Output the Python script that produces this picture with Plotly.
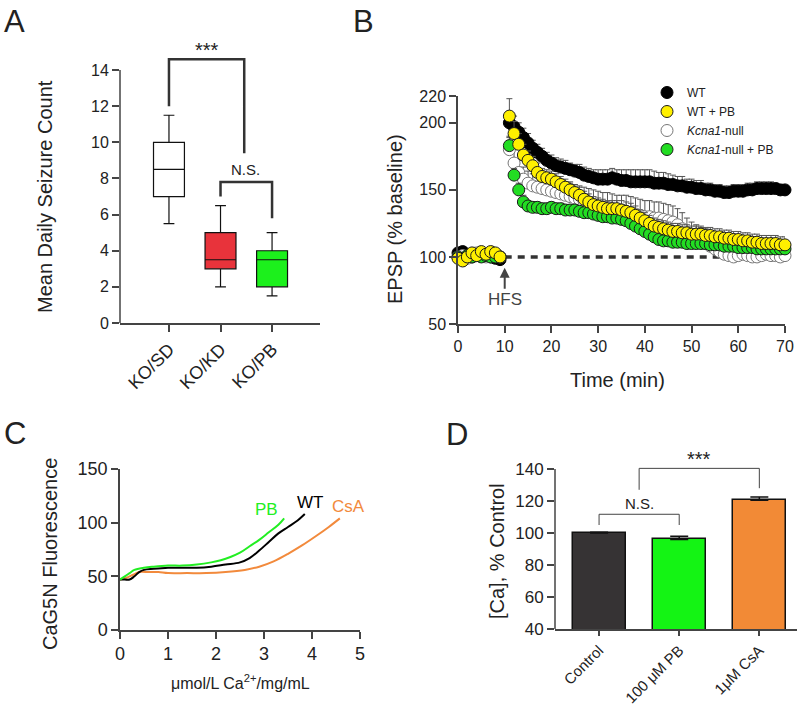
import plotly.graph_objects as go

FONT = "Liberation Sans, Arial, sans-serif"
INK = "#222222"
AX = "#444444"

# ---------------- Panel A data ----------------
A_CATS = ["KO/SD", "KO/KD", "KO/PB"]
A_POS = [0, 1, 2]
A_Q1 = [7.0, 3.0, 2.0]
A_MED = [8.5, 3.5, 3.5]
A_Q3 = [10.0, 5.0, 4.0]
A_LO = [5.5, 2.0, 1.5]
A_HI = [11.5, 6.5, 5.0]
A_COLORS = ["#ffffff", "#e8333b", "#1cf01c"]
A_YTICKS = [0, 2, 4, 6, 8, 10, 12, 14]

# ---------------- Panel B data ----------------
B_TIME = list(range(0, 10)) + list(range(11, 71))
B_WT = [103, 104, 101, 100, 101, 103, 101, 100, 99, 98,
        200, 197, 193, 189, 185, 181, 178, 175, 172, 170,
        168, 167, 166, 165, 164, 163, 161, 160, 159, 158,
        158, 158, 159, 158, 157, 157, 156, 156, 156, 156,
        156, 155, 155, 155, 154, 154, 153, 153, 152, 152,
        151, 151, 150, 150, 149, 149, 148, 148, 149, 149,
        149, 150, 150, 151, 151, 151, 151, 151, 150, 150]
B_WT_ERR = [2, 2, 2, 2, 2, 2, 2, 2, 2, 2,
            8, 8, 7, 7, 7, 6, 6, 6, 6, 6,
            6, 6, 6, 5, 5, 6, 6, 6, 6, 7,
            7, 7, 7, 7, 8, 8, 9, 9, 9, 9,
            9, 9, 8, 8, 8, 7, 7, 7, 6, 6,
            6, 6, 5, 5, 5, 5, 5, 5, 5, 5,
            5, 5, 5, 5, 5, 5, 5, 4, 4, 4]
B_WTPB = [99, 97, 100, 103, 101, 104, 102, 104, 103, 100,
          205, 192, 184, 176, 172, 168, 163, 160, 159, 158,
          156, 154, 152, 150, 148, 146, 143, 141, 139, 138,
          137, 136, 136, 136, 135, 134, 133, 131, 129, 127,
          125, 123, 122, 121, 120, 119, 119, 118, 118, 117,
          117, 117, 116, 116, 115, 115, 114, 114, 113, 113,
          112, 112, 111, 111, 110, 110, 110, 110, 109, 109]
B_WTPB_ERR = [2, 2, 2, 2, 2, 2, 2, 2, 2, 2,
              13, 9, 8, 8, 7, 7, 7, 6, 6, 6,
              6, 6, 6, 6, 6, 6, 6, 6, 6, 6,
              6, 6, 6, 6, 7, 7, 7, 7, 6, 6,
              6, 6, 6, 6, 6, 6, 6, 6, 6, 6,
              6, 6, 6, 6, 6, 6, 6, 6, 6, 6,
              6, 6, 6, 6, 6, 6, 6, 6, 6, 6]
B_KO = [100, 101, 99, 102, 103, 101, 100, 102, 101, 100,
        180, 170, 163, 158, 155, 153, 152, 151, 150, 149,
        148, 147, 146, 145, 144, 143, 141, 140, 139, 138,
        137, 137, 136, 135, 135, 134, 133, 132, 131, 130,
        130, 129, 129, 128, 127, 126, 124, 121, 118, 115,
        113, 111, 110, 108, 106, 104, 102, 101, 100, 101,
        102, 101, 100, 100, 101, 102, 101, 101, 100, 101]
B_KO_ERR = [2, 2, 2, 2, 2, 2, 2, 2, 2, 2,
            10, 10, 9, 9, 9, 9, 9, 9, 10, 10,
            10, 10, 10, 10, 10, 10, 11, 11, 11, 11,
            11, 11, 11, 11, 11, 12, 12, 12, 12, 12,
            12, 12, 12, 12, 12, 12, 12, 12, 11, 11,
            11, 11, 11, 10, 10, 10, 10, 10, 10, 10,
            10, 10, 10, 10, 10, 10, 10, 10, 10, 10]
B_KOPB = [100, 99, 101, 100, 102, 100, 101, 100, 100, 100,
          183, 161, 150, 141, 138, 137, 137, 136, 136, 137,
          136, 136, 135, 135, 135, 134, 133, 133, 132, 131,
          130, 130, 129, 129, 128, 127, 125, 123, 121, 119,
          117, 115, 113, 112, 112, 111, 111, 111, 110, 110,
          110, 110, 110, 109, 109, 109, 108, 108, 108, 107,
          107, 107, 107, 106, 106, 106, 106, 106, 106, 106]
B_KOPB_ERR = [2, 2, 2, 2, 2, 2, 2, 2, 2, 2,
              6, 5, 5, 5, 4, 4, 4, 4, 4, 4,
              4, 4, 4, 4, 4, 4, 4, 4, 4, 4,
              4, 4, 4, 4, 4, 4, 4, 4, 4, 4,
              4, 4, 4, 4, 4, 4, 4, 4, 4, 4,
              4, 4, 4, 4, 4, 4, 4, 4, 4, 4,
              4, 4, 4, 4, 4, 4, 4, 4, 4, 4]
B_XTICKS = [0, 10, 20, 30, 40, 50, 60, 70]
B_YTICKS = [50, 100, 150, 200, 220]

# ---------------- Panel C data ----------------
C_WT_X = [0, 0.1, 0.2, 0.3, 0.4, 0.5, 0.7, 1.0, 1.3, 1.6, 1.9, 2.2, 2.5, 2.7, 2.9, 3.1, 3.3, 3.5, 3.7, 3.85]
C_WT_Y = [47, 47, 47, 50, 54, 56, 57, 58, 58, 58, 59, 61, 63, 67, 74, 82, 90, 96, 102, 108]
C_PB_X = [0, 0.1, 0.2, 0.3, 0.5, 0.7, 1.0, 1.3, 1.6, 1.9, 2.1, 2.3, 2.5, 2.7, 2.9, 3.1, 3.3, 3.42]
C_PB_Y = [47, 50, 53, 56, 58, 59, 60, 60, 61, 63, 65, 68, 72, 78, 84, 91, 98, 104]
C_CSA_X = [0, 0.1, 0.2, 0.3, 0.4, 0.6, 0.8, 1.0, 1.4, 1.8, 2.2, 2.6, 2.9, 3.2, 3.5, 3.8, 4.1, 4.35, 4.58]
C_CSA_Y = [47, 48, 50, 52, 54, 54, 54, 53, 53, 53, 54, 56, 59, 64, 71, 79, 88, 96, 104]
C_XTICKS = [0, 1, 2, 3, 4, 5]
C_YTICKS = [0, 50, 100, 150]

# ---------------- Panel D data ----------------
D_CATS = ["Control", "100 \u03bcM PB", "1\u03bcM CsA"]
D_POS = [0, 1, 2]
D_VALS = [100.0, 96.0, 120.5]
D_ERR = [0.5, 2.0, 2.0]
D_COLORS = ["#363334", "#14f414", "#f28a36"]
D_YTICKS = [40, 60, 80, 100, 120, 140]

# Figure fills the whole 800 x 705 window (body margin removed by post_script below).
W, H, OFF = 800, 705, 0
def fx(px):
    return (px - OFF) / W
def fy(py):
    return (H + OFF - py) / H

fig = go.Figure()

# ---- Panel A boxes ----
for i in range(3):
    fig.add_trace(go.Box(
        x=[A_POS[i]], q1=[A_Q1[i]], median=[A_MED[i]], q3=[A_Q3[i]],
        lowerfence=[A_LO[i]], upperfence=[A_HI[i]],
        width=0.6, whiskerwidth=0.35, fillcolor=A_COLORS[i],
        line=dict(color="#111111", width=1.2), boxpoints=False,
        showlegend=False, hoverinfo="skip", xaxis="x", yaxis="y"))

# ---- Panel B ----
fig.add_trace(go.Scatter(x=[10, 70], y=[100, 100], mode="lines",
                         line=dict(color="#333333", width=3.5, dash="7px,6px"),
                         showlegend=False, hoverinfo="skip", xaxis="x2", yaxis="y2"))

def series(y, err, fill, edge, name, rank):
    return go.Scatter(
        x=B_TIME, y=y, mode="markers", name=name, legendrank=rank,
        marker=dict(size=12, color=fill, line=dict(color=edge, width=1)),
        error_y=dict(type="data", symmetric=False, array=err, arrayminus=[0] * len(err),
                     color="#555555", thickness=1, width=3),
        cliponaxis=False, xaxis="x2", yaxis="y2")

fig.add_trace(series(B_WT, B_WT_ERR, "#000000", "#000000", "WT", 1))
fig.add_trace(series(B_KO, B_KO_ERR, "#ffffff", "#777777", "<i>Kcna1</i>-null", 3))
fig.add_trace(series(B_KOPB, B_KOPB_ERR, "#22dd22", "#1a1a1a", "<i>Kcna1</i>-null + PB", 4))
fig.add_trace(series(B_WTPB, B_WTPB_ERR, "#fff000", "#1a1a1a", "WT + PB", 2))

# ---- Panel C ----
fig.add_trace(go.Scatter(x=C_CSA_X, y=C_CSA_Y, mode="lines", line=dict(color="#f28a3c", width=2, shape="spline"),
                         showlegend=False, xaxis="x3", yaxis="y3"))
fig.add_trace(go.Scatter(x=C_WT_X, y=C_WT_Y, mode="lines", line=dict(color="#000000", width=2, shape="spline"),
                         showlegend=False, xaxis="x3", yaxis="y3"))
fig.add_trace(go.Scatter(x=C_PB_X, y=C_PB_Y, mode="lines", line=dict(color="#22ee22", width=2, shape="spline"),
                         showlegend=False, xaxis="x3", yaxis="y3"))

# ---- Panel D ----
fig.add_trace(go.Bar(
    x=D_POS, y=D_VALS, width=0.66, marker=dict(color=D_COLORS, line=dict(color="#111111", width=1.5)),
    error_y=dict(type="data", symmetric=False, array=D_ERR, arrayminus=[0, 0, 0],
                 color="#111111", thickness=1.5, width=9),
    showlegend=False, xaxis="x4", yaxis="y4"))

axis_common = dict(showgrid=False, zeroline=False, showline=True, linecolor=AX, linewidth=1.5,
                   ticks="outside", ticklen=7, tickwidth=1.5, tickcolor=AX, automargin=False,
                   tickfont=dict(size=16, color=INK, family=FONT))

fig.update_layout(
    width=W, height=H, margin=dict(l=0, r=0, t=0, b=0, pad=0, autoexpand=False),
    paper_bgcolor="white", plot_bgcolor="white",
    font=dict(family=FONT, color=INK),
    bargap=0,
    xaxis=dict(axis_common, domain=[fx(120), fx(320)], range=[-0.95, 2.93], tickvals=A_POS, ticktext=A_CATS,
               tickangle=-45, tickfont=dict(size=18, color=INK, family=FONT)),
    yaxis=dict(axis_common, domain=[fy(323), fy(43)], range=[0, 15.5], tickvals=A_YTICKS, showline=False,
               anchor="x"),
    xaxis2=dict(axis_common, domain=[fx(458), fx(785)], range=[0, 70], tickvals=B_XTICKS, anchor="y2"),
    yaxis2=dict(axis_common, domain=[fy(324), fy(96)], range=[50, 220], tickvals=B_YTICKS, anchor="x2"),
    xaxis3=dict(axis_common, domain=[fx(120), fx(360)], range=[0, 5], tickvals=C_XTICKS, anchor="y3",
                tickfont=dict(size=18, color=INK, family=FONT)),
    yaxis3=dict(axis_common, domain=[fy(630), fy(469)], range=[0, 150], tickvals=C_YTICKS, anchor="x3",
                tickfont=dict(size=18, color=INK, family=FONT)),
    xaxis4=dict(axis_common, domain=[fx(555), fx(797)], range=[-0.55, 2.47], tickvals=D_POS, ticktext=D_CATS,
                tickangle=-45, ticklen=5, anchor="y4", tickfont=dict(size=15, color=INK, family=FONT)),
    yaxis4=dict(axis_common, domain=[fy(629), fy(453)], range=[40, 150], tickvals=D_YTICKS, showline=False,
                anchor="x4", tickfont=dict(size=17, color=INK, family=FONT)),
    legend=dict(x=fx(647), y=fy(78), xanchor="left", yanchor="top", bgcolor="rgba(0,0,0,0)",
                font=dict(size=12, color=INK, family=FONT), tracegroupgap=0, itemsizing="trace"),
)

shapes = [
    # y-axis lines that stop at the top tick
    dict(type="line", xref="x domain", yref="y", x0=0, x1=0, y0=0, y1=14, line=dict(color=AX, width=1.5)),
    dict(type="line", xref="x4 domain", yref="y4", x0=0, x1=0, y0=40, y1=140, line=dict(color=AX, width=1.5)),
    # significance brackets panel A
    dict(type="path", xref="x", yref="y", path="M 0,12 L 0,14.6 L 1.46,14.6 L 1.46,9.4",
         line=dict(color="#333333", width=2.5)),
    dict(type="path", xref="x", yref="y", path="M 1,7 L 1,7.8 L 2,7.8 L 2,5.8",
         line=dict(color="#333333", width=2.5)),
    # significance brackets panel D
    dict(type="path", xref="x4", yref="y4", path="M 0,105 L 0,111.7 L 1,111.7 L 1,105",
         line=dict(color="#444444", width=1)),
    dict(type="path", xref="x4", yref="y4", path="M 0.5,127 L 0.5,140.4 L 2,140.4 L 2,128",
         line=dict(color="#444444", width=1)),
]
fig.update_layout(shapes=shapes)

ann = []
def letter(txt, px, py):
    ann.append(dict(text=txt, x=fx(px), y=fy(py), xref="paper", yref="paper", showarrow=False,
                    xanchor="center", yanchor="middle", font=dict(size=31, color="#222222", family=FONT)))
letter("A", 14, 21)
letter("B", 363, 21)
letter("C", 15, 433)
letter("D", 457, 434)

def title(txt, px, py, angle=0, size=20):
    ann.append(dict(text=txt, x=fx(px), y=fy(py), xref="paper", yref="paper", showarrow=False, textangle=angle,
                    xanchor="center", yanchor="middle", font=dict(size=size, color=INK, family=FONT)))
title("Mean Daily Seizure Count", 45, 197, -90)
title("EPSP (% baseline)", 395, 219, -90)
title("Time (min)", 617, 380)
title("CaG5N Fluorescence", 50, 554, -90)
title("\u03bcmol/L Ca<sup>2+</sup>/mg/mL", 240, 682, 0, 16)
title("[Ca], % Control", 497, 551, -90)

# stars / N.S.
ann.append(dict(text="***", x=0.73, y=15.1, xref="x", yref="y", showarrow=False,
                font=dict(size=20, color=INK, family=FONT)))
ann.append(dict(text="N.S.", x=1.48, y=8.5, xref="x", yref="y", showarrow=False,
                font=dict(size=15, color=INK, family=FONT)))
ann.append(dict(text="N.S.", x=0.5, y=118.5, xref="x4", yref="y4", showarrow=False,
                font=dict(size=15, color=INK, family=FONT)))
ann.append(dict(text="***", x=1.25, y=146.5, xref="x4", yref="y4", showarrow=False,
                font=dict(size=20, color=INK, family=FONT)))

# HFS arrow
ann.append(dict(text="HFS", x=10, y=92, xref="x2", yref="y2", ax=10, ay=68, axref="x2", ayref="y2",
                showarrow=True, arrowhead=2, arrowsize=1, arrowwidth=2, arrowcolor="#444444",
                font=dict(size=17, color="#444444", family=FONT)))

# Panel C curve labels
ann.append(dict(text="PB", x=3.06, y=112, xref="x3", yref="y3", showarrow=False,
                font=dict(size=17, color="#22ee22", family=FONT)))
ann.append(dict(text="WT", x=3.96, y=119, xref="x3", yref="y3", showarrow=False,
                font=dict(size=17, color="#000000", family=FONT)))
ann.append(dict(text="CsA", x=4.75, y=115, xref="x3", yref="y3", showarrow=False,
                font=dict(size=17, color="#f28a3c", family=FONT)))

fig.update_layout(annotations=ann)

fig.write_html("out.html", config={"displayModeBar": False},
               post_script="document.body.style.margin='0px'; document.body.style.overflow='hidden';")
